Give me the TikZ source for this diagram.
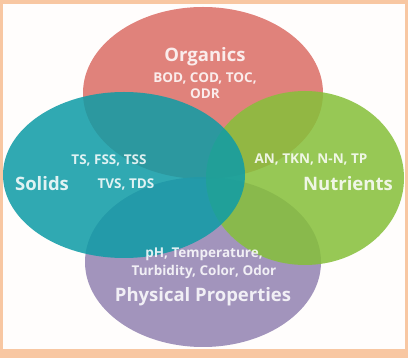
\documentclass[tikz,border=0pt]{standalone}
\usepackage{fontspec}
\setmainfont{Open Sans}
\begin{document}
\begin{tikzpicture}[x=1pt,y=-1pt,
  setc/.style={fill opacity=0.86,draw=none},
  lbl/.style={text=white,text opacity=0.85,font=\bfseries,inner sep=0pt,align=center},
  big/.style={lbl,font=\bfseries\fontsize{18.5}{20}\selectfont},
  small/.style={lbl,font=\bfseries\fontsize{13.5}{15}\selectfont}]
\definecolor{peach}{HTML}{F8C7A2}
\definecolor{orgc}{HTML}{DC6E66}
\definecolor{solc}{HTML}{0F9CA6}
\definecolor{nutc}{HTML}{86C03A}
\definecolor{phyc}{HTML}{9383B2}
\useasboundingbox (0,0) rectangle (408,358);
\fill[peach] (0,0) rectangle (408,358);
\fill[white!97!peach] (3,4) rectangle (405,349);
% sets
\fill[orgc,setc] (203,93) ellipse [x radius=120,y radius=86];
\fill[phyc,setc] (203,262) ellipse [x radius=118,y radius=85];
\fill[nutc,setc] (305,178) ellipse [x radius=99,y radius=87];
\fill[solc,setc] (124,175) ellipse [x radius=121,y radius=83];
% labels
\node[big] (org) at (205,57) {Organics};
\node[small] (orgt) at (205,78) {BOD, COD, TOC,};
\node[small] (orgt2) at (205,94) {ODR};
\node[big] (sol) at (42,184) {Solids};
\node[small] (solt) at (109,160) {TS, FSS, TSS};
\node[small] (solt2) at (126,184) {TVS, TDS};
\node[small] (nutt) at (311,160) {AN, TKN, N-N, TP};
\node[big] (nut) at (348,184) {Nutrients};
\node[small] (phyt) at (204,254) {pH, Temperature,};
\node[small] (phyt2) at (204,272) {Turbidity, Color, Odor};
\node[big] (phy) at (203,297) {Physical Properties};
\end{tikzpicture}
\end{document}
